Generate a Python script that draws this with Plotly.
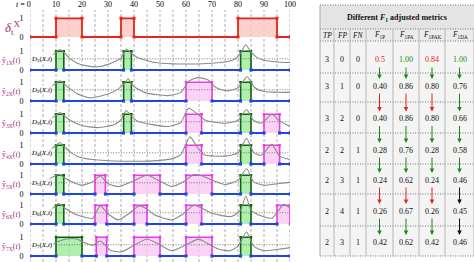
import plotly.graph_objects as go

W, H = 474, 262

# ---------------- DATA ----------------
top_ticks = [0, 10, 20, 30, 40, 50, 60, 70, 80, 90, 100]
top_tick_labels = ["<i>t</i> = 0", "10", "20", "30", "40", "50", "60", "70", "80", "90", "100"]
grid_step = 5

gt_intervals = [(10, 20), (35, 40), (80, 95)]
threshold = 0.6

row_labels = ["ŷ<sub>1X</sub>(<i>t</i>)", "ŷ<sub>2X</sub>(<i>t</i>)", "ŷ<sub>3X</sub>(<i>t</i>)",
              "ŷ<sub>4X</sub>(<i>t</i>)", "ŷ<sub>5X</sub>(<i>t</i>)", "ŷ<sub>6X</sub>(<i>t</i>)",
              "ŷ<sub>7X</sub>(<i>t</i>)"]
score_labels = ["<i>D</i><sub>%d</sub>(<i>X</i>,<i>t</i>)" % i for i in range(1, 8)]

tp_boxes = [
    [(10, 13), (36, 39), (81, 85)],
    [(10, 13), (36, 39), (81, 85)],
    [(10, 13), (36, 39), (81, 85)],
    [(10, 13), (81, 85)],
    [(10, 13), (81, 85)],
    [(10, 13), (81, 85)],
    [(10, 20), (81, 85)],
]
fp_boxes = [
    [],
    [(60, 70)],
    [(60, 66), (90, 96)],
    [(60, 66), (90, 96)],
    [(25, 29), (40, 50), (60, 70)],
    [(25, 29.5), (40, 45), (60, 66), (95, 100)],
    [(25.5, 29.5), (40, 50), (60, 70)],
]

score1_t = [0, 4, 8, 10, 11.5, 13, 15, 18, 22, 26, 30, 33, 35, 37, 39, 41, 44, 48, 55, 62, 70, 76, 79, 81, 83, 85, 87, 90, 95, 100]
score1_v = [0.42, 0.48, 0.7, 0.95, 1.1, 0.95, 0.65, 0.38, 0.22, 0.17, 0.3, 0.48, 0.62, 1.12, 0.88, 0.7, 0.55, 0.4, 0.33, 0.32, 0.36, 0.45, 0.6, 0.9, 1.35, 0.95, 0.7, 0.52, 0.43, 0.4]
score2_t = [0, 4, 8, 10, 11.5, 13, 15, 18, 23, 30, 34, 36, 37.8, 39, 41, 45, 53, 58, 61, 64.5, 68.5, 71.5, 76, 80, 83.5, 86.5, 90, 95, 100]
score2_v = [0.46, 0.52, 0.75, 0.95, 1.08, 0.92, 0.7, 0.4, 0.17, 0.37, 0.65, 0.9, 1.19, 0.9, 0.68, 0.42, 0.29, 0.46, 1.05, 1.25, 1.12, 0.72, 0.54, 0.71, 1.3, 0.71, 0.51, 0.47, 0.46]
score3_t = [0, 4, 8, 10, 11.5, 13, 15, 20, 26, 32.5, 35, 37, 39, 41, 47, 53, 58, 61, 64.5, 67.5, 75, 80, 83.3, 86, 89, 93, 96, 100]
score3_v = [0.48, 0.53, 0.75, 0.95, 1.1, 0.95, 0.72, 0.4, 0.29, 0.45, 0.72, 1.2, 0.9, 0.66, 0.45, 0.35, 0.56, 1.32, 1.0, 0.68, 0.52, 0.68, 1.26, 0.68, 0.52, 1.0, 0.65, 0.35]
score4_t = [0, 4, 8, 10, 11.5, 13, 15, 18, 24, 36, 49, 55, 58, 61.5, 64.5, 67, 75, 80, 83.3, 86, 89, 93, 96, 100]
score4_v = [0.5, 0.55, 0.78, 1.0, 1.15, 0.95, 0.7, 0.42, 0.24, 0.15, 0.18, 0.3, 0.5, 1.45, 0.87, 0.5, 0.42, 0.6, 1.38, 0.62, 0.47, 1.05, 0.42, 0.24]
score5_t = [0, 5, 8, 11, 14, 17, 20, 24, 27, 30, 34, 39, 45, 50.5, 54.5, 59, 63, 66, 70, 75, 80, 83.3, 86, 90, 95, 100]
score5_v = [0.56, 0.6, 0.85, 1.04, 0.8, 0.6, 0.47, 0.65, 0.96, 0.56, 0.39, 0.65, 1.0, 0.65, 0.39, 0.65, 1.04, 0.98, 0.74, 0.51, 0.74, 1.35, 0.65, 0.47, 0.55, 0.62]
score6_t = [0, 5, 8, 11, 14, 17, 20, 24, 27, 30, 34, 38, 42, 45, 48, 54.5, 59, 63, 66, 70, 77.5, 81, 83, 85, 88, 93, 95, 97.5, 100]
score6_v = [0.4, 0.48, 0.75, 1.09, 0.8, 0.55, 0.4, 0.3, 0.97, 0.55, 0.22, 0.55, 0.97, 0.8, 0.48, 0.22, 0.55, 1.0, 0.85, 0.57, 0.4, 0.75, 1.5, 0.75, 0.48, 0.31, 0.6, 1.05, 0.85]
score7_t = [0, 5, 10, 14, 18, 20.5, 24, 27, 31, 35, 40, 45, 50, 54.5, 60, 64.7, 68, 72.4, 77, 80, 83.3, 86, 90, 95, 100]
score7_v = [0.4, 0.45, 0.74, 0.91, 0.91, 0.74, 0.57, 0.8, 0.31, 0.22, 0.57, 0.91, 0.6, 0.28, 0.6, 0.9, 0.7, 0.37, 0.28, 0.53, 1.28, 0.53, 0.28, 0.35, 0.45]
scores_t = [score1_t, score2_t, score3_t, score4_t, score5_t, score6_t, score7_t]
scores_v = [score1_v, score2_v, score3_v, score4_v, score5_v, score6_v, score7_v]

# table data
table_title = "<b>Different <i>F</i><sub>1</sub> adjusted metrics</b>"
table_headers = ["<i>TP</i>", "<i>FP</i>", "<i>FN</i>", "<i>F</i><sub>1P</sub>", "<i>F</i><sub>1PA</sub>",
                 "<i>F</i><sub>1PAK</sub>", "<i>F</i><sub>1DA</sub>"]
col_TP = [3, 3, 3, 2, 2, 2, 2]
col_FP = [0, 1, 2, 2, 3, 4, 3]
col_FN = [0, 0, 0, 1, 1, 1, 1]
col_F1P = ["0.5", "0.40", "0.40", "0.28", "0.24", "0.26", "0.42"]
col_F1PA = ["1.00", "0.86", "0.86", "0.76", "0.62", "0.67", "0.62"]
col_F1PAK = ["0.84", "0.80", "0.80", "0.28", "0.24", "0.26", "0.42"]
col_F1DA = ["1.00", "0.76", "0.66", "0.58", "0.46", "0.45", "0.46"]
first_row_colors = ["r", "g", "r", "g"]
arrow_colors = [
    ["g", "g", "g", "g"],
    ["r", "r", "r", "g"],
    ["g", "g", "g", "g"],
    ["g", "g", "g", "g"],
    ["r", "r", "r", "k"],
    ["g", "g", "g", "k"],
]

# ---------------- STYLE / LAYOUT ----------------
RED = "#e5251b"
PINK = "rgba(250,200,196,0.85)"
GREEN = "#0d640d"
GREENFILL = "rgba(150,232,150,0.75)"
MAG = "#ec3ce6"
MAGFILL = "rgba(250,200,244,0.8)"
BLUE = "#1f45e6"
GRAY = "#8a8a8a"
LABELC = "#a8287a"
CMAP = {"r": "#e3261c", "g": "#1a8a1a", "k": "#111111"}
SERIF = "Liberation Serif"

x0px, x1px = 30, 290
py0 = [37, 70, 101, 133, 164, 194, 224, 256]
S = 18.7
ylo, yhi = -0.3, 1.6


def pp(py):
    return 1 - py / H


def px(xp):
    return xp / W


fig = go.Figure()
layout = dict(width=W, height=H, margin=dict(l=0, r=0, t=0, b=0),
              paper_bgcolor="white", plot_bgcolor="rgba(0,0,0,0)", showlegend=False,
              xaxis=dict(domain=[px(x0px), px(x1px)], range=[0, 100], visible=False, anchor="y"))
shapes, annos = [], []

for k in range(8):
    yname = "yaxis" if k == 0 else "yaxis%d" % (k + 1)
    bot = py0[k] - ylo * S
    top = py0[k] - yhi * S
    layout[yname] = dict(domain=[max(0, pp(bot)), min(1, pp(top))], range=[ylo, yhi], anchor="x",
                         tickvals=[0, 1], ticktext=["0", "1"], ticks="outside", ticklen=4,
                         tickcolor="rgba(0,0,0,0)", showgrid=False, zeroline=False, showline=False,
                         tickfont=dict(family=SERIF, size=8, color="black"))

yref = lambda k: "y" if k == 0 else "y%d" % (k + 1)

# ground truth row
gx, gy = [0], [0]
for a, b in gt_intervals:
    gx += [a, a, b, b]
    gy += [0, 1, 1, 0]
gx.append(100)
gy.append(0)
fig.add_trace(go.Scatter(x=gx, y=gy, mode="lines+markers", fill="tozeroy", fillcolor=PINK,
                         line=dict(color=RED, width=1.8), marker=dict(symbol="square", size=3, color=RED),
                         xaxis="x", yaxis="y", hoverinfo="skip"))

for i in range(7):
    k = i + 1
    ya = yref(k)
    boxes = sorted([(a, b, "tp") for a, b in tp_boxes[i]] + [(a, b, "fp") for a, b in fp_boxes[i]])
    for a, b, kind in boxes:
        lc, fc = (GREEN, GREENFILL) if kind == "tp" else (MAG, MAGFILL)
        fig.add_trace(go.Scatter(x=[a, a, b, b], y=[0, 1, 1, 0], mode="lines+markers", fill="tozeroy",
                                 fillcolor=fc, line=dict(color=lc, width=1.6),
                                 marker=dict(symbol="square", size=2.5, color=lc),
                                 xaxis="x", yaxis=ya, hoverinfo="skip"))
    # prediction = 0 segments
    bx, by = [], []
    prev = 0
    for a, b, kind in boxes:
        if a > prev:
            bx += [prev, a, None]
            by += [0, 0, None]
        prev = b
    if prev < 100:
        bx += [prev, 100, None]
        by += [0, 0, None]
    fig.add_trace(go.Scatter(x=bx, y=by, mode="lines+markers", line=dict(color=BLUE, width=1.8),
                             marker=dict(symbol="square", size=3, color=BLUE),
                             xaxis="x", yaxis=ya, hoverinfo="skip"))
    # threshold
    fig.add_trace(go.Scatter(x=[0, 100], y=[threshold, threshold], mode="lines",
                             line=dict(color="#555555", width=0.8, dash="1px,1.6px"),
                             xaxis="x", yaxis=ya, hoverinfo="skip"))
    # score curve
    fig.add_trace(go.Scatter(x=scores_t[i], y=scores_v[i], mode="lines",
                             line=dict(color=GRAY, width=1.1, shape="spline", smoothing=0.6),
                             xaxis="x", yaxis=ya, hoverinfo="skip"))
    annos.append(dict(x=0, y=threshold, xref="x", yref=ya, xanchor="left", yanchor="middle",
                      text=score_labels[i], showarrow=False, bgcolor="rgba(255,255,255,0.85)",
                      font=dict(family=SERIF, size=7, color="black"), borderpad=0))
    annos.append(dict(x=0, y=0.5, xref="paper", yref=ya, xanchor="left", yanchor="middle",
                      text=row_labels[i], showarrow=False,
                      font=dict(family=SERIF, size=8, color=LABELC)))

annos.append(dict(x=px(3), y=0.5, xref="paper", yref="y", xanchor="left", yanchor="middle",
                  text="<i>δ</i><sub>t</sub><sup>X</sup>", showarrow=False,
                  font=dict(family=SERIF, size=13, color=LABELC)))

# vertical dashed grid
for t in range(0, 101, grid_step):
    shapes.append(dict(type="line", xref="x", yref="paper", x0=t, x1=t, y0=0, y1=pp(10),
                       line=dict(color="#9a9a9a", width=0.8, dash="3px,2px"), layer="below"))
# top tick labels
for t, lab in zip(top_ticks, top_tick_labels):
    a = dict(x=t, y=pp(5), xref="x", yref="paper", text=lab, showarrow=False, yanchor="middle",
             xanchor="center", font=dict(family=SERIF, size=8, color="black"))
    if t == 0:
        a.update(xanchor="right", xshift=3)
    annos.append(a)

# ---------------- TABLE ----------------
tl, tr = 320, 474
ttop, ttitle, thead = 5, 29, 41
row_bounds = [41, 73, 102, 133, 164, 194, 226, 256]
row_text_y = [60, 86, 118.5, 150, 180, 211, 242]
col_bounds = [320, 334, 350, 366, 393, 419, 445, 474]
col_cent = [(col_bounds[j] + col_bounds[j + 1]) / 2 for j in range(7)]

shapes.append(dict(type="rect", xref="paper", yref="paper", x0=px(tl), x1=px(tr), y0=pp(row_bounds[-1]),
                   y1=pp(ttop), fillcolor="#f4f4f4", line=dict(width=0), layer="below"))
shapes.append(dict(type="rect", xref="paper", yref="paper", x0=px(tl), x1=px(tr), y0=pp(ttitle),
                   y1=pp(ttop), fillcolor="#e4e4e4", line=dict(width=0), layer="below"))
shapes.append(dict(type="rect", xref="paper", yref="paper", x0=px(tl), x1=px(tr), y0=pp(thead),
                   y1=pp(ttitle), fillcolor="#ebebeb", line=dict(width=0), layer="below"))
for yb in [ttop, ttitle] + row_bounds:
    shapes.append(dict(type="line", xref="paper", yref="paper", x0=px(tl), x1=px(tr), y0=pp(yb), y1=pp(yb),
                       line=dict(color="#777777", width=1, dash="1px,1.5px")))
shapes.append(dict(type="line", xref="paper", yref="paper", x0=px(tl), x1=px(tl), y0=pp(row_bounds[-1]),
                   y1=pp(ttop), line=dict(color="#aaaaaa", width=1)))
for xb in col_bounds[1:]:
    shapes.append(dict(type="line", xref="paper", yref="paper", x0=px(xb), x1=px(xb), y0=pp(row_bounds[-1]),
                       y1=pp(ttitle), line=dict(color="#b5b5b5", width=1)))

annos.append(dict(x=px((tl + tr) / 2), y=pp((ttop + ttitle) / 2 + 0.5), xref="paper", yref="paper",
                  xanchor="center", yanchor="middle",
                  text=table_title, showarrow=False, font=dict(family=SERIF, size=8, color="#111111")))
for j, h in enumerate(table_headers):
    annos.append(dict(x=px(col_cent[j]), y=pp((ttitle + thead) / 2), xref="paper", yref="paper",
                      xanchor="center", yanchor="middle",
                      text=h, showarrow=False, font=dict(family=SERIF, size=7.5, color="#111111")))

columns = [col_TP, col_FP, col_FN, col_F1P, col_F1PA, col_F1PAK, col_F1DA]
for r in range(7):
    for j in range(7):
        color = "#111111"
        if r == 0 and j >= 3:
            color = CMAP[first_row_colors[j - 3]]
        annos.append(dict(x=px(col_cent[j]), y=pp(row_text_y[r]), xref="paper", yref="paper",
                          xanchor="center", yanchor="middle",
                          text=str(columns[j][r]), showarrow=False,
                          font=dict(family=SERIF, size=8, color=color)))
for r in range(6):
    for j in range(4):
        head_y = row_text_y[r + 1] - 7
        tail_y = row_text_y[r] + 6
        annos.append(dict(x=px(col_cent[3 + j]), y=pp(head_y), xref="paper", yref="paper", text="",
                          showarrow=True, ax=0, ay=-(head_y - tail_y), arrowhead=2, arrowsize=0.9,
                          arrowwidth=1, arrowcolor=CMAP[arrow_colors[r][j]]))

layout["shapes"] = shapes
layout["annotations"] = annos
fig.update_layout(**layout)
fig.write_html("out.html", config={"displayModeBar": False, "staticPlot": True},
               post_script="document.body.style.margin='0px';document.body.style.overflow='hidden';")
